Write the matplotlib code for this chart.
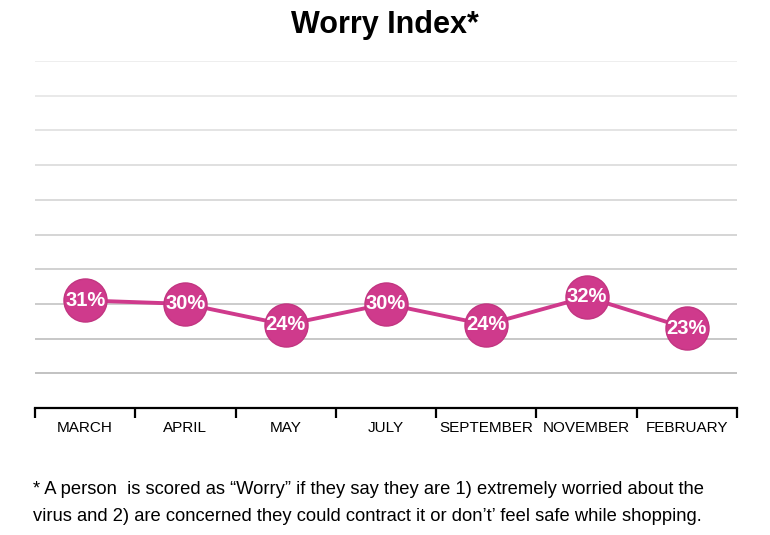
import matplotlib
matplotlib.use("Agg")
import matplotlib.pyplot as plt
import numpy as np

categories = ["MARCH", "APRIL", "MAY", "JULY", "SEPTEMBER", "NOVEMBER", "FEBRUARY"]
values = [31, 30, 24, 30, 24, 32, 23]
labels = ["31%", "30%", "24%", "30%", "24%", "32%", "23%"]
title = "Worry Index*"
footnote = ("* A person  is scored as \u201cWorry\u201d if they say they are 1) extremely worried about the\n"
            "virus and 2) are concerned they could contract it or don\u2019t\u2019 feel safe while shopping.")

plt.rcParams['font.family'] = ['Liberation Sans', 'DejaVu Sans']
pink = "#cf3a8c"

fig = plt.figure(figsize=(7.7, 5.35), dpi=100)
ax = fig.add_axes([35/770, 1-408/535, (737-35)/770, (408-61)/535])
x = np.arange(len(categories))
ax.set_xlim(-0.5, len(categories)-0.5)
ax.set_ylim(0, 100)

grid_levels = np.arange(10, 101, 10)
for g in grid_levels:
    shade = 0.72 + 0.2 * (g - 10) / 90
    ax.axhline(g, color=(shade, shade, shade), lw=1.2, zorder=0)

ax.plot(x, values, color=pink, lw=2.8, zorder=2)
ax.plot(x, values, 'o', ms=31, color=pink, mec="#c23581", mew=1, zorder=3)
for xi, v, l in zip(x, values, labels):
    ax.text(xi, v, l, ha='center', va='center', color='white', fontsize=14.5,
            fontweight='bold', zorder=4)

for s in ['top', 'right', 'left']:
    ax.spines[s].set_visible(False)
ax.spines['bottom'].set_linewidth(1.6)
ax.set_yticks([])
ax.set_xticks(np.arange(-0.5, len(categories)), minor=False)
ax.set_xticklabels([])
ax.tick_params(axis='x', which='major', length=7, width=1.6, direction='out')
ax.set_xticks(x, minor=True)
ax.set_xticklabels(categories, minor=True, fontsize=11)
ax.tick_params(axis='x', which='minor', length=0, pad=9)

fig.text(385/770, 1-25/535, title, ha='center', va='center', fontsize=22, fontweight='bold')
fig.text(33/770, 1-503/535, footnote, ha='left', va='center', fontsize=13.2, linespacing=1.7)

fig.savefig("out.png", dpi=100)
